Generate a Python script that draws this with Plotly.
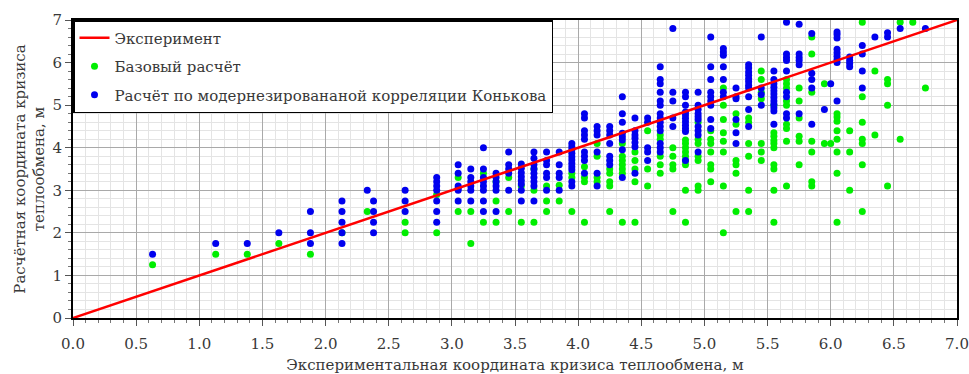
import plotly.graph_objects as go

# Базовый расчёт: координата по эксперименту -> расчётные значения
base_cols = {
    0.63: [1.25],
    1.13: [1.5],
    1.38: [1.5],
    1.63: [1.75],
    1.88: [1.5],
    2.13: [2.0],
    2.33: [2.5],
    2.63: [2.25, 2.0],
    2.88: [2.9, 2.0],
    3.05: [3.3, 2.5],
    3.15: [2.5, 1.75],
    3.25: [3.4, 2.25],
    3.35: [3.2, 2.75, 2.25],
    3.45: [3.3, 2.5],
    3.55: [3.1, 2.25],
    3.65: [3.5, 3.0, 2.25],
    3.75: [3.1, 2.75, 2.5],
    3.85: [3.12, 2.75],
    3.95: [3.4, 3.3, 2.5],
    4.05: [3.55, 3.3, 3.2, 2.25],
    4.15: [4.1, 3.8, 3.3, 3.2],
    4.25: [3.5, 3.4, 3.2, 3.1, 2.5],
    4.35: [4.1, 3.8, 3.7, 3.6, 3.5, 3.4, 2.25],
    4.45: [3.9, 3.7, 3.5, 3.2, 2.25],
    4.55: [4.4, 3.5, 3.1],
    4.65: [4.3, 4.2, 3.8, 3.6, 3.4],
    4.75: [4.0, 3.8, 3.6, 3.5, 2.5],
    4.85: [4.18, 4.1, 4.0, 3.9, 3.8, 3.7, 3.6, 3.0, 2.25],
    4.95: [4.6, 4.2, 4.1, 3.8, 3.7, 3.1, 3.0],
    5.05: [4.4, 4.2, 4.1, 3.9, 3.6, 3.5, 3.2],
    5.15: [5.4, 5.0, 4.66, 4.35, 4.15, 3.9, 3.1, 2.0],
    5.25: [4.8, 4.55, 3.7, 3.6, 3.4, 2.5],
    5.35: [4.7, 4.6, 4.1, 3.8, 3.0, 2.5],
    5.45: [5.8, 5.6, 5.3, 5.15, 4.1, 3.9, 3.7],
    5.55: [5.0, 4.35, 4.27, 4.17, 4.1, 4.0, 3.6, 3.5, 3.0, 2.25],
    5.65: [5.6, 5.5, 5.4, 5.1, 5.0, 4.55, 4.45, 4.15, 3.1],
    5.75: [5.4, 5.1, 4.7, 4.27, 4.15, 3.6],
    5.85: [6.6, 6.2, 5.3, 4.15, 3.9, 3.2, 3.1],
    5.95: [5.5, 4.1],
    6.0: [4.1],
    6.05: [4.8, 4.72, 4.62, 4.4, 4.2, 3.9, 3.4, 2.25],
    6.15: [4.4, 3.9, 3.0],
    6.25: [6.95, 5.2, 4.6, 4.2, 4.1, 3.6, 2.5],
    6.35: [5.8, 4.3],
    6.45: [5.6, 5.5, 5.0, 3.1],
    6.55: [6.95, 4.2],
    6.65: [6.95],
    6.75: [5.4],
}

# Расчёт по модернизированной корреляции
mod_cols = {
    0.63: [1.5],
    1.13: [1.75],
    1.38: [1.75],
    1.63: [2.0],
    1.88: [2.5, 2.0, 1.75],
    2.13: [2.75, 2.5, 2.25, 2.0, 1.75],
    2.33: [3.0],
    2.38: [2.75, 2.5, 2.25, 2.0],
    2.63: [3.0, 2.75, 2.5],
    2.88: [3.3, 3.2, 3.1, 3.0, 2.75, 2.5, 2.25],
    3.05: [3.6, 3.4, 3.1, 3.05, 3.0, 2.75],
    3.15: [3.5, 3.3, 3.2, 3.1, 3.0, 2.75],
    3.25: [4.0, 3.5, 3.3, 3.2, 3.1, 3.0, 2.75, 2.5],
    3.35: [3.4, 3.3, 3.2, 3.1, 3.0, 2.5],
    3.45: [3.9, 3.6, 3.5, 3.4, 3.0],
    3.55: [3.62, 3.52, 3.41, 3.32, 3.23, 3.15, 3.0, 2.75],
    3.65: [3.9, 3.75, 3.6, 3.5, 3.4, 3.3, 3.2, 3.1, 2.75],
    3.75: [3.9, 3.7, 3.6, 3.4, 3.3, 3.0],
    3.85: [3.9, 3.6, 3.4, 3.3, 3.0],
    3.95: [4.1, 4.02, 3.95, 3.87, 3.79, 3.71, 3.63, 3.55, 3.48, 3.2, 3.1],
    4.05: [4.8, 4.7, 4.4, 4.3, 4.2, 3.9, 3.8, 3.7, 3.4],
    4.15: [4.5, 4.4, 4.3, 3.9, 3.4, 3.1],
    4.25: [4.5, 4.4, 4.3, 4.1, 3.8, 3.7, 3.6],
    4.35: [5.2, 4.8, 4.6, 4.34, 4.26, 4.18, 3.95, 3.3],
    4.45: [4.7, 4.4, 4.3, 4.22, 4.12, 4.02, 3.4],
    4.55: [4.7, 4.6, 4.0, 3.9, 3.7],
    4.65: [5.9, 5.6, 5.5, 5.3, 5.1, 5.0, 4.8, 4.7, 4.6, 4.5, 4.4, 4.1, 4.0, 3.9],
    4.75: [6.8, 5.3, 5.1, 4.7, 4.5],
    4.85: [5.3, 5.2, 5.0, 4.84, 4.77, 4.69, 4.61, 4.53, 4.45, 4.38, 3.7],
    4.95: [5.3, 5.0, 4.9, 4.8, 4.73, 4.66, 4.5, 4.4, 4.3, 3.9],
    5.05: [6.6, 5.9, 5.6, 5.3, 5.2, 5.1, 5.0, 4.66, 4.45],
    5.15: [6.33, 6.25, 6.17, 5.9, 5.6, 5.3, 5.2],
    5.25: [5.4, 5.2, 5.15, 4.66, 4.35, 4.1],
    5.35: [5.95, 5.87, 5.78, 5.7, 5.62, 5.55, 5.47, 5.4, 5.2, 4.9, 4.5],
    5.45: [6.6, 5.4, 5.25, 5.0],
    5.55: [5.8, 5.6, 5.5, 5.42, 5.34, 5.26, 5.18, 5.1, 5.02, 4.94, 4.86, 4.55],
    5.65: [6.95, 6.2, 6.12, 6.05, 5.8, 5.3, 5.2, 4.8, 4.7],
    5.75: [6.9, 6.2, 6.12, 6.05, 5.95, 4.8],
    5.85: [6.68, 5.75, 5.6, 5.4, 4.55],
    5.95: [4.9],
    6.0: [5.5],
    6.05: [6.72, 6.66, 6.58, 6.31, 6.23, 6.15, 6.07, 6.0, 5.1],
    6.15: [6.13, 6.05, 5.98, 5.9],
    6.25: [6.4, 6.2, 5.8, 5.4],
    6.35: [6.6],
    6.45: [6.7, 6.6],
    6.55: [6.8],
    6.75: [6.8],
}

# Линия совпадения расчёта с экспериментом
exp_x = [0.0, 7.0]
exp_y = [0.0, 7.0]

x_ticks = [0.0, 0.5, 1.0, 1.5, 2.0, 2.5, 3.0, 3.5, 4.0, 4.5, 5.0, 5.5, 6.0, 6.5, 7.0]
y_ticks = [0, 1, 2, 3, 4, 5, 6, 7]


def flatten(cols):
    xs, ys = [], []
    for xv, vals in cols.items():
        for yv in vals:
            xs.append(xv)
            ys.append(yv)
    return xs, ys


base_x, base_y = flatten(base_cols)
mod_x, mod_y = flatten(mod_cols)

FONT = "DejaVu Serif"
TEXT_COLOR = "#383838"

fig = go.Figure()
fig.add_trace(go.Scatter(
    x=base_x, y=base_y, mode="markers", name="Базовый расчёт",
    marker=dict(color="#00ee00", size=7), legendrank=2, legendgroup="b",
))
fig.add_trace(go.Scatter(
    x=mod_x, y=mod_y, mode="markers",
    name="Расчёт по модернезировананой корреляции Конькова",
    marker=dict(color="#0000ee", size=7), legendrank=3, legendgroup="c",
))
fig.add_trace(go.Scatter(
    x=exp_x, y=exp_y, mode="lines", name="Эксперимент",
    line=dict(color="#ff0000", width=2.5), legendrank=1, legendgroup="a",
))

axis_common = dict(
    showline=True, linecolor="black", linewidth=2, mirror=True,
    showgrid=True, gridcolor="#a9a9a9", gridwidth=1,
    zeroline=False, ticks="outside", ticklen=6, tickcolor="#555",
    tickfont=dict(family=FONT, size=15, color=TEXT_COLOR),
)

fig.update_xaxes(
    range=[0, 7], tickvals=x_ticks, ticktext=[f"{v:.1f}" for v in x_ticks],
    minor=dict(dtick=0.1, showgrid=True, gridcolor="#e4e4e4",
               ticks="outside", ticklen=3, tickcolor="#777"),
    ticklabelstandoff=5,
    title=dict(text="Экспериментальная координата кризиса теплообмена, м",
               font=dict(family=FONT, size=15, color=TEXT_COLOR), standoff=12),
    automargin=False,
    **axis_common,
)
fig.update_yaxes(
    range=[0, 7], tickvals=y_ticks, ticktext=[str(v) for v in y_ticks],
    minor=dict(dtick=0.2, showgrid=True, gridcolor="#e4e4e4",
               ticks="outside", ticklen=3, tickcolor="#777"),
    title=dict(text="Расчётная координата кризиса<br>теплообмена, м",
               font=dict(family=FONT, size=15, color=TEXT_COLOR), standoff=4),
    automargin=False,
    **axis_common,
)

fig.update_layout(
    width=969, height=374,
    margin=dict(l=73, r=12, t=20, b=56),
    plot_bgcolor="white", paper_bgcolor="white",
    showlegend=True,
    legend=dict(
        x=0, y=1, xanchor="left", yanchor="top",
        bgcolor="white", bordercolor="black", borderwidth=1.5,
        font=dict(family=FONT, size=15, color=TEXT_COLOR),
        tracegroupgap=6, traceorder="grouped",
    ),
)

fig.write_html("out.html")
